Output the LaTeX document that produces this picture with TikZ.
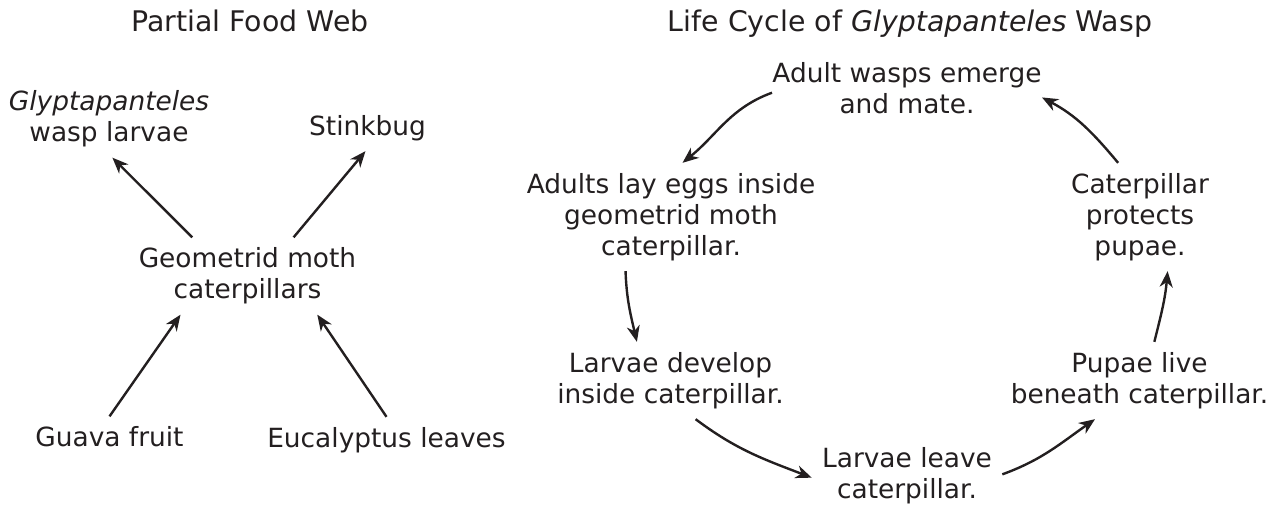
\documentclass[tikz,border=0pt]{standalone}
\usepackage{fontspec}
\setmainfont{DejaVu Sans}
\usetikzlibrary{arrows.meta}
\definecolor{ink}{RGB}{35,31,32}
\tikzset{
  lbl/.style={align=center,inner sep=5pt,text=ink,font=\fontsize{13.2}{15.5}\selectfont},
  ttl/.style={inner sep=0pt,text=ink,font=\fontsize{14.2}{17}\selectfont},
  arr/.style={-{Stealth[length=8pt,width=6.5pt,inset=2.5pt]},line width=1.2pt,draw=ink}
}
\begin{document}
\begin{tikzpicture}[x=0.5pt,y=0.5pt]
\useasboundingbox (0,0) rectangle (1278,-508);
\node[ttl] (webtitle) at (250,-20.5) {Partial Food Web};
\node[ttl] (cycletitle) at (910,-23.5) {Life Cycle of \textit{Glyptapanteles} Wasp};
% food web
\node[lbl] (wasp) at (109,-119) {\textit{Glyptapanteles}\\wasp larvae};
\node[lbl] (stinkbug) at (367.5,-128) {Stinkbug};
\node[lbl] (moth) at (247.5,-276) {Geometrid moth\\caterpillars};
\node[lbl] (guava) at (109.5,-437) {Guava fruit};
\node[lbl] (eucalyptus) at (386.5,-440) {Eucalyptus leaves};
\draw[arr] (moth.145) -- (wasp.-85);
\draw[arr] (moth.40) -- (stinkbug.-95);
\draw[arr] (guava.90) -- (moth.210);
\draw[arr] (eucalyptus.90) -- (moth.331);
% life cycle
\node[lbl,inner xsep=0pt] (adult) at (907,-88) {Adult wasps emerge\\and mate.};
\node[lbl] (eggs) at (671,-217) {Adults lay eggs inside\\geometrid moth\\caterpillar.};
\node[lbl] (develop) at (670.5,-380.5) {Larvae develop\\inside caterpillar.};
\node[lbl] (leave) at (907,-476) {Larvae leave\\caterpillar.};
\node[lbl] (pupae) at (1139.5,-380.5) {Pupae live\\beneath caterpillar.};
\node[lbl] (protect) at (1140,-217) {Caterpillar\\protects\\pupae.};
\draw[arr] (adult.182) to[out=200,in=39] (eggs.78);
\draw[arr] (eggs.230) to[out=272,in=103] (develop.131);
\draw[arr] (develop.303) to[out=323,in=159] (leave.181);
\draw[arr] (leave.1) to[out=20,in=215] (pupae.221);
\draw[arr] (pupae.69) to[out=76,in=265] (protect.297);
\draw[arr] (protect.112) to[out=130,in=332] (adult.-4);
\end{tikzpicture}
\end{document}
